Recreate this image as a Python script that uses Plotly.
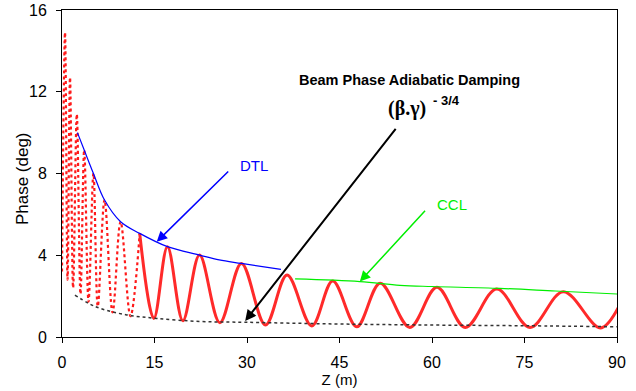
import plotly.graph_objects as go

# Beam phase oscillation (peaks and troughs)
z_phase = [0.0, 0.49, 0.9, 1.3, 1.8, 2.4, 3.0, 3.6, 4.3, 5.1, 5.8, 6.9, 8.2, 9.5, 11.1, 12.6,
           14.9, 17.1, 19.6, 22.3, 25.6, 29.1, 33.0, 36.5, 40.5, 43.9, 47.8, 51.6, 56.4,
           60.8, 65.4, 70.5, 75.9, 81.3, 87.3, 90.2]
phase = [3.2, 14.9, 2.8, 12.7, 2.4, 10.9, 2.1, 9.15, 1.73, 8.0, 1.5, 6.7, 1.2, 5.64, 1.02, 5.07,
         0.91, 4.42, 0.80, 4.01, 0.70, 3.6, 0.59, 3.03, 0.54, 2.74, 0.50, 2.63, 0.47,
         2.43, 0.47, 2.35, 0.47, 2.22, 0.44, 1.43]
split_z = 12.6

# DTL upper envelope
z_dtl = [2.5, 3.6, 5.1, 6.9, 9.5, 12.6, 17.1, 22.3, 25.5, 29.1, 35.5]
env_dtl = [10.0, 9.15, 8.0, 6.7, 5.64, 5.07, 4.42, 4.01, 3.77, 3.6, 3.31]

# CCL upper envelope
z_ccl = [37.8, 48.3, 54.8, 60.0, 71.0, 80.0, 90.3]
env_ccl = [2.84, 2.71, 2.53, 2.47, 2.38, 2.25, 2.10]

# Lower envelope
z_low = [2.1, 4.3, 6.2, 10.5, 15.4, 22.4, 29.9, 44.0, 58.0, 75.4, 90.0]
env_low = [2.05, 1.65, 1.40, 1.08, 0.91, 0.76, 0.72, 0.64, 0.59, 0.55, 0.50]

x_ticks = [0, 15, 30, 45, 60, 75, 90]
y_ticks = [0, 4, 8, 12, 16]

FONT = "Liberation Sans, Arial, sans-serif"

fig = go.Figure()

i_split = z_phase.index(split_z)
fig.add_trace(go.Scatter(x=z_phase[:i_split + 1], y=phase[:i_split + 1], mode="lines",
                         line=dict(color="#ff1a1a", width=2.2, dash="dot", shape="spline"),
                         showlegend=False, hoverinfo="skip"))
fig.add_trace(go.Scatter(x=z_phase[i_split:], y=phase[i_split:], mode="lines",
                         line=dict(color="#ff2a2a", width=3, shape="spline"),
                         showlegend=False, hoverinfo="skip"))
fig.add_trace(go.Scatter(x=z_dtl, y=env_dtl, mode="lines",
                         line=dict(color="#0000ff", width=1.2, shape="spline"),
                         showlegend=False, hoverinfo="skip"))
fig.add_trace(go.Scatter(x=z_ccl, y=env_ccl, mode="lines",
                         line=dict(color="#00ee00", width=1.2, shape="spline"),
                         showlegend=False, hoverinfo="skip"))
fig.add_trace(go.Scatter(x=z_low, y=env_low, mode="lines",
                         line=dict(color="#333333", width=1.5, dash="dot", shape="spline"),
                         showlegend=False, hoverinfo="skip"))

annotations = [
    dict(x=56.3, y=12.57, text="<b>Beam Phase Adiabatic Damping</b>", showarrow=False,
         font=dict(family=FONT, size=14.5, color="black"), xanchor="center", yanchor="middle"),
    dict(x=55.9, y=11.2, text="<b>(β.γ)</b>", showarrow=False,
         font=dict(family="Liberation Serif, Times New Roman, serif", size=20, color="black"),
         xanchor="center", yanchor="middle"),
    dict(x=62.3, y=11.58, text="<b>- 3/4</b>", showarrow=False,
         font=dict(family=FONT, size=13, color="black"), xanchor="center", yanchor="middle"),
    dict(x=31.2, y=8.4, text="DTL", showarrow=False,
         font=dict(family=FONT, size=15, color="#0000ff"), xanchor="center", yanchor="middle"),
    dict(x=63.2, y=6.5, text="CCL", showarrow=False,
         font=dict(family=FONT, size=15, color="#00ee00"), xanchor="center", yanchor="middle"),
    # y-axis title
    dict(x=-0.072, y=0.483, xref="paper", yref="paper", text="Phase (deg)", textangle=-90,
         showarrow=False, font=dict(family=FONT, size=17, color="black"),
         xanchor="center", yanchor="middle"),
    # arrows
    dict(x=15.36, y=4.66, ax=27.2, ay=8.17, axref="x", ayref="y", text="", showarrow=True,
         arrowhead=2, arrowsize=1.4, arrowwidth=1.5, arrowcolor="#0000ff"),
    dict(x=48.3, y=2.71, ax=59.1, ay=6.25, axref="x", ayref="y", text="", showarrow=True,
         arrowhead=2, arrowsize=1.4, arrowwidth=1.5, arrowcolor="#00ee00"),
    dict(x=29.7, y=0.78, ax=54.3, ay=10.26, axref="x", ayref="y", text="", showarrow=True,
         arrowhead=2, arrowsize=1.1, arrowwidth=2, arrowcolor="black"),
]

fig.update_layout(
    width=636, height=391,
    margin=dict(l=62, r=19, t=10, b=54),
    paper_bgcolor="white", plot_bgcolor="white",
    font=dict(family=FONT, color="black"),
    annotations=annotations,
    xaxis=dict(range=[0, 90], tickvals=x_ticks, ticktext=[str(v) for v in x_ticks],
               ticks="outside", ticklen=5, tickcolor="black", showgrid=False, zeroline=False,
               showline=True, mirror=True, linecolor="black", linewidth=1,
               tickfont=dict(size=16), ticklabelstandoff=6, automargin=False,
               title=dict(text="Z (m)", font=dict(size=15), standoff=2)),
    yaxis=dict(range=[0, 16], tickvals=y_ticks, ticktext=[str(v) for v in y_ticks],
               ticks="outside", ticklen=5, tickcolor="black", showgrid=False, zeroline=False,
               showline=True, mirror=True, linecolor="black", linewidth=1,
               tickfont=dict(size=16), ticklabelstandoff=6, automargin=False),
)

fig.write_html("out.html", config={"displayModeBar": False},
               post_script="document.body.style.margin='0';document.body.style.padding='0';")
